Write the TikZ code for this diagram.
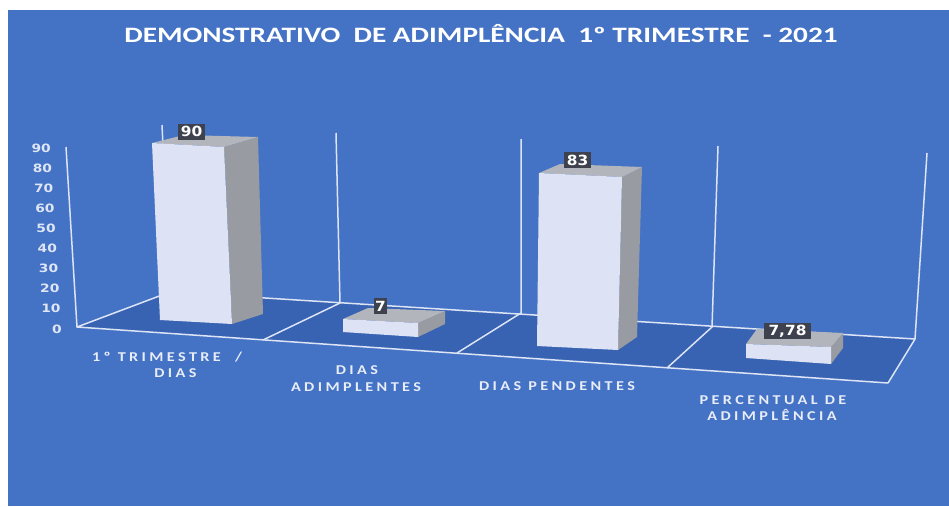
\documentclass[tikz,border=0pt]{standalone}
\usepackage{fontspec}
\setmainfont{Carlito}
\newfontfamily\titlefont{Carlito}
\newfontfamily\catfont[LetterSpace=21]{Carlito}
\newfontfamily\numfont{DejaVu Sans}
\definecolor{bgblue}{RGB}{68,114,196}
\definecolor{floorblue}{RGB}{56,99,178}
\definecolor{gridc}{RGB}{220,228,245}
\definecolor{barfront}{RGB}{221,227,244}
\definecolor{barside}{RGB}{152,155,162}
\definecolor{bartop}{RGB}{178,181,188}
\definecolor{lblbox}{RGB}{62,66,78}
\definecolor{axtext}{RGB}{222,229,245}
\definecolor{cattext}{RGB}{232,237,248}
\tikzset{
  gridline/.style={draw=gridc, line width=1.5pt, line join=round},
  frontface/.style={fill=barfront},
  sideface/.style={fill=barside},
  topface/.style={fill=bartop},
  axlabel/.style={inner sep=0pt, anchor=east, text=axtext, font=\numfont\bfseries\fontsize{11.5}{12}\selectfont},
  catlabel/.style={inner sep=0pt, anchor=base, text=cattext, font=\catfont\bfseries\fontsize{13.5}{15}\selectfont},
  datalabel/.style={inner sep=0pt, fill=lblbox, text=white, font=\numfont\bfseries\fontsize{14}{15}\selectfont, minimum height=16pt},
}
\begin{document}
\begin{tikzpicture}[x=1pt,y=-1pt]
\useasboundingbox (0,0) rectangle (949,506);
\fill[white] (0,0) rectangle (949,506);
\fill[bgblue] (8,10) rectangle (949,506);
% floor
\coordinate (FL) at (77,327);
\coordinate (BL) at (170,292);
\coordinate (BR) at (915,339);
\coordinate (FR) at (888,383);
\fill[floorblue] (FL) -- (BL) -- (BR) -- (FR) -- cycle;
% back wall verticals and floor grid
\coordinate (AT) at (66,147);
\coordinate (V0) at (162,125);
\coordinate (V1t) at (336,133);
\coordinate (V1b) at (340,303);
\coordinate (V2t) at (521,139);
\coordinate (V2b) at (521,313);
\coordinate (V3t) at (718,146);
\coordinate (V3b) at (712,327);
\coordinate (V4t) at (927,153);
\coordinate (D1) at (263,340);
\coordinate (D2) at (457,353);
\coordinate (D3) at (667,368);
\draw[gridline] (AT) -- (FL) -- (FR) -- (BR) -- (BL) -- (FL);
\draw[gridline] (V0) -- (BL);
\draw[gridline] (V1t) -- (V1b) -- (D1);
\draw[gridline] (V2t) -- (V2b) -- (D2);
\draw[gridline] (V3t) -- (V3b) -- (D3);
\draw[gridline] (V4t) -- (BR);
% bar 1 (90)
\fill[sideface] (224,147) -- (258,137) -- (263,314) -- (232,324) -- cycle;
\fill[topface] (152,143) -- (224,147) -- (258,137) -- (184,135) -- cycle;
\fill[frontface] (152,143) -- (224,147) -- (232,324) -- (160,320) -- cycle;
% bar 2 (7)
\fill[sideface] (418,323) -- (445,311) -- (445,324) -- (418,337) -- cycle;
\fill[topface] (343,319) -- (418,323) -- (445,311) -- (368,308) -- cycle;
\fill[frontface] (343,319) -- (418,323) -- (418,337) -- (343,332) -- cycle;
% bar 3 (83)
\fill[sideface] (622,177) -- (642,167) -- (637,337) -- (618,350) -- cycle;
\fill[topface] (539,173) -- (622,177) -- (642,167) -- (560,164) -- cycle;
\fill[frontface] (539,173) -- (622,177) -- (618,350) -- (537,346) -- cycle;
% bar 4 (7,78)
\fill[sideface] (831,347) -- (843,333) -- (843,348) -- (831,364) -- cycle;
\fill[topface] (746,344) -- (831,347) -- (843,333) -- (757,329) -- cycle;
\fill[frontface] (746,344) -- (831,347) -- (831,364) -- (746,358) -- cycle;
% data labels
\node[datalabel, minimum width=27pt] (L1) at (191.5,131.5) {\scalebox{1.1}[1]{90}};
\node[datalabel, minimum width=13pt] (L2) at (380.5,306) {\scalebox{1.1}[1]{7}};
\node[datalabel, minimum width=27pt] (L3) at (577.5,160) {\scalebox{1.1}[1]{83}};
\node[datalabel, minimum width=47pt] (L4) at (787.5,331) {\scalebox{1.1}[1]{7,78}};
% axis labels
\foreach \v/\n in {90/a9,80/a8,70/a7,60/a6,50/a5,40/a4,30/a3,20/a2,10/a1,0/a0}{
  \node[axlabel] (\n) at ({51+(90-\v)/90*11},{148+(90-\v)*2.01}) {\scalebox{1.2}[1]{\v}};
}
% title
\node[inner sep=0pt, anchor=base, text=white, font=\titlefont\bfseries\fontsize{22}{24}\selectfont] (title) at (481,42)
  {\scalebox{1.33}[1]{DEMONSTRATIVO\ \ DE ADIMPLÊNCIA\ \ 1º TRIMESTRE\ \ - 2021}};
% category labels
\node[catlabel] (c1a) at (167,361.5) {\scalebox{1.2}[1]{1º TRIMESTRE\ \ /}};
\node[catlabel] (c1b) at (175.5,377) {\scalebox{1.2}[1]{DIAS}};
\node[catlabel] (c2a) at (357,374.5) {\scalebox{1.2}[1]{DIAS}};
\node[catlabel] (c2b) at (356,391) {\scalebox{1.2}[1]{ADIMPLENTES}};
\node[catlabel] (c3) at (557,390) {\scalebox{1.2}[1]{DIAS PENDENTES}};
\node[catlabel] (c4a) at (773,404.5) {\scalebox{1.2}[1]{PERCENTUAL DE}};
\node[catlabel] (c4b) at (772,420) {\scalebox{1.2}[1]{ADIMPLÊNCIA}};
\end{tikzpicture}
\end{document}
